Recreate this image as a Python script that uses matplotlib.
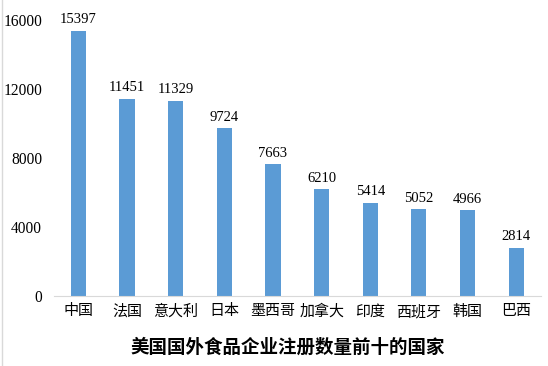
import matplotlib
matplotlib.use('Agg')
import matplotlib.pyplot as plt
from matplotlib.lines import Line2D

countries = ['中国', '法国', '意大利', '日本', '墨西哥', '加拿大', '印度', '西班牙', '韩国', '巴西']
counts = [15397, 11451, 11329, 9724, 7663, 6210, 5414, 5052, 4966, 2814]
yticks = [0, 4000, 8000, 12000, 16000]
title = '美国国外食品企业注册数量前十的国家'

cjk = ['Noto Sans CJK SC', 'DejaVu Sans']
serif = ['Liberation Serif', 'DejaVu Serif']

fig = plt.figure(figsize=(5.48, 3.66), dpi=100)
ax = fig.add_axes([0.0985, 0.191, 0.888, 0.754])

x = range(len(countries))
ax.bar(x, counts, width=0.31, color='#5B9BD5', zorder=2)
for i, v in zip(x, counts):
    ax.text(i, v + 250, str(v), ha='center', va='bottom',
            fontsize=10.5, family=serif, clip_on=False)

ax.set_xlim(-0.5, len(countries) - 0.5)
ax.set_ylim(0, 16000)
ax.set_yticks(yticks)
ax.set_yticklabels([str(t) for t in yticks], family=serif, fontsize=11.2)
ax.set_xticks(list(x))
ax.set_xticklabels(countries, family=cjk, fontsize=10.8)
ax.tick_params(axis='both', length=0, pad=6)
ax.tick_params(axis='y', pad=8.6)

for s in ['top', 'right', 'left']:
    ax.spines[s].set_visible(False)
ax.spines['bottom'].set_color('#D9D9D9')

fig.text(0.525, 0.052, title, ha='center', va='center',
         fontsize=13.3, fontweight='bold', family=cjk)

# thin grey line on the left edge of the picture
fig.lines.append(Line2D([0.003, 0.003], [0, 1], transform=fig.transFigure,
                        color='#D9D9D9', linewidth=1))

fig.savefig('out.png', dpi=100)
